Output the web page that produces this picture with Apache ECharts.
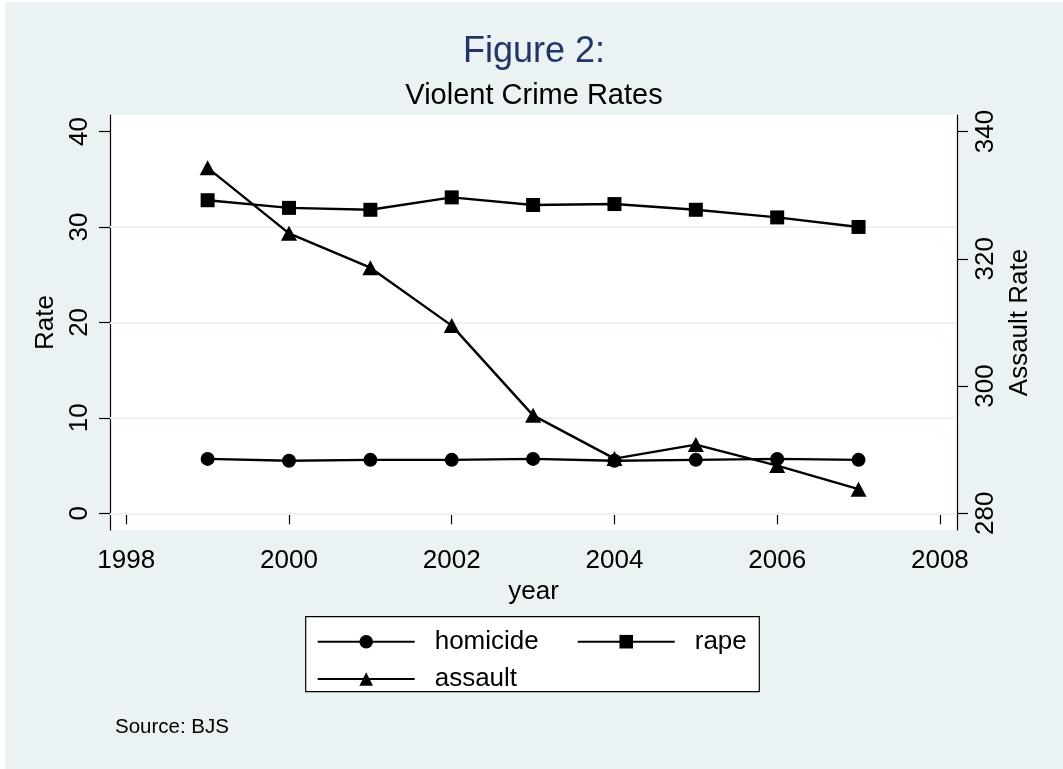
<!DOCTYPE html>
<html>
<head>
<meta charset="utf-8">
<script src="https://cdn.jsdelivr.net/npm/echarts@6/dist/echarts.min.js"></script>
<style>
  html, body { margin: 0; padding: 0; background: #ffffff; }
  #chart { position: absolute; left: 5px; top: 2px; width: 1058px; height: 767px; }
</style>
</head>
<body>
<div id="chart"></div>
<script>
// ---- data ----
const years = [1999, 2000, 2001, 2002, 2003, 2004, 2005, 2006, 2007];
const homicide = [5.7, 5.5, 5.6, 5.6, 5.7, 5.5, 5.6, 5.7, 5.6];
const rape = [32.8, 32.0, 31.8, 33.1, 32.3, 32.4, 31.8, 31.0, 30.0];
const assault = [334.3, 324.0, 318.6, 309.5, 295.4, 288.6, 290.8, 287.5, 283.8];
const xTicks = [1998, 2000, 2002, 2004, 2006, 2008];
const leftTicks = [0, 10, 20, 30, 40];
const rightTicks = [280, 300, 320, 340];
const gridValues = [0, 10, 20, 30];

const FONT = '"Liberation Sans", Arial, Helvetica, sans-serif';
const BG = '#eaf2f3';

const chart = echarts.init(document.getElementById('chart'), null, { renderer: 'canvas' });

const axisLineStyle = { color: '#000', width: 1.2 };

function pairs(vals) { return years.map((y, i) => [y, vals[i]]); }

const option = {
  animation: false,
  backgroundColor: BG,
  textStyle: { fontFamily: FONT },
  title: [
    { text: 'Figure 2:', left: 'center', top: 32, padding: 0,
      textStyle: { fontFamily: FONT, fontSize: 36, fontWeight: 'normal', color: '#223568' } },
    { text: 'Violent Crime Rates', left: 'center', top: 79, padding: 0,
      textStyle: { fontFamily: FONT, fontSize: 29, fontWeight: 'normal', color: '#000' } },
    { text: 'Source: BJS', left: 110, top: 715, padding: 0,
      textStyle: { fontFamily: FONT, fontSize: 20.5, fontWeight: 'normal', color: '#000' } }
  ],
  graphic: [
    { type: 'rect', z: 0, shape: { x: 300.7, y: 614.7, width: 453.6, height: 75 },
      style: { fill: '#fff', stroke: '#000', lineWidth: 1.2 } }
  ],
  legend: [
    { data: ['homicide', 'rape'], left: 311.7, top: 626.7, padding: 0, z: 5,
      itemWidth: 97, itemHeight: 17, itemGap: 38,
      textStyle: { fontFamily: FONT, fontSize: 26, color: '#000', padding: [0, 0, 0, 15], lineHeight: 26 } },
    { data: ['assault'], left: 311.7, top: 664, padding: 0, z: 5,
      itemWidth: 97, itemHeight: 17, itemGap: 38,
      textStyle: { fontFamily: FONT, fontSize: 26, color: '#000', padding: [0, 0, 0, 15], lineHeight: 26 } }
  ],
  grid: { left: 105, right: 106, top: 113, bottom: 239, show: true, backgroundColor: '#fff', borderWidth: 0, containLabel: false },
  xAxis: {
    type: 'value', min: 1997.8, max: 2008.21,
    name: 'year', nameLocation: 'middle', nameGap: 44,
    nameTextStyle: { fontFamily: FONT, fontSize: 26, color: '#000' },
    axisLine: { show: true, lineStyle: axisLineStyle },
    axisTick: { show: true, length: 11, lineStyle: axisLineStyle, customValues: xTicks },
    axisLabel: { customValues: xTicks, margin: 18, fontFamily: FONT, fontSize: 26, color: '#000',
      formatter: v => String(Math.round(v)) },
    splitLine: { show: false }
  },
  yAxis: [
    {
      type: 'value', position: 'left', min: -1.75, max: 41.73,
      name: 'Rate', nameLocation: 'middle', nameGap: 47, nameRotate: 90,
      nameTextStyle: { fontFamily: FONT, fontSize: 26, color: '#000' },
      axisLine: { show: true, lineStyle: axisLineStyle },
      axisTick: { show: true, length: 11, lineStyle: axisLineStyle, customValues: leftTicks },
      axisLabel: { customValues: leftTicks, rotate: 90, margin: 17, fontFamily: FONT, fontSize: 26, color: '#000',
        formatter: v => String(Math.round(v)) },
      splitLine: { show: false }
    },
    {
      type: 'value', position: 'right', min: 277.38, max: 342.6,
      name: 'Assault Rate', nameLocation: 'middle', nameGap: 43, nameRotate: 90,
      nameTextStyle: { fontFamily: FONT, fontSize: 26, color: '#000' },
      axisLine: { show: true, lineStyle: axisLineStyle },
      axisTick: { show: true, length: 11, lineStyle: axisLineStyle, customValues: rightTicks },
      axisLabel: { customValues: rightTicks, rotate: 90, margin: 16, fontFamily: FONT, fontSize: 26, color: '#000',
        formatter: v => String(Math.round(v)) },
      splitLine: { show: false }
    }
  ],
  series: [
    {
      name: 'homicide', type: 'line', yAxisIndex: 0, data: pairs(homicide),
      symbol: 'circle', symbolSize: 14,
      lineStyle: { color: '#000', width: 2.4 }, itemStyle: { color: '#000' },
      markLine: {
        silent: true, symbol: 'none', z: 1, animation: false,
        label: { show: false },
        lineStyle: { color: BG, width: 2, type: 'solid' },
        emphasis: { disabled: true },
        data: gridValues.map(v => ({ yAxis: v }))
      }
    },
    {
      name: 'rape', type: 'line', yAxisIndex: 0, data: pairs(rape),
      symbol: 'rect', symbolSize: 14,
      lineStyle: { color: '#000', width: 2.4 }, itemStyle: { color: '#000' }
    },
    {
      name: 'assault', type: 'line', yAxisIndex: 1, data: pairs(assault),
      symbol: 'triangle', symbolSize: [16, 15],
      lineStyle: { color: '#000', width: 2.4 }, itemStyle: { color: '#000' }
    }
  ]
};

chart.setOption(option);
</script>
</body>
</html>
